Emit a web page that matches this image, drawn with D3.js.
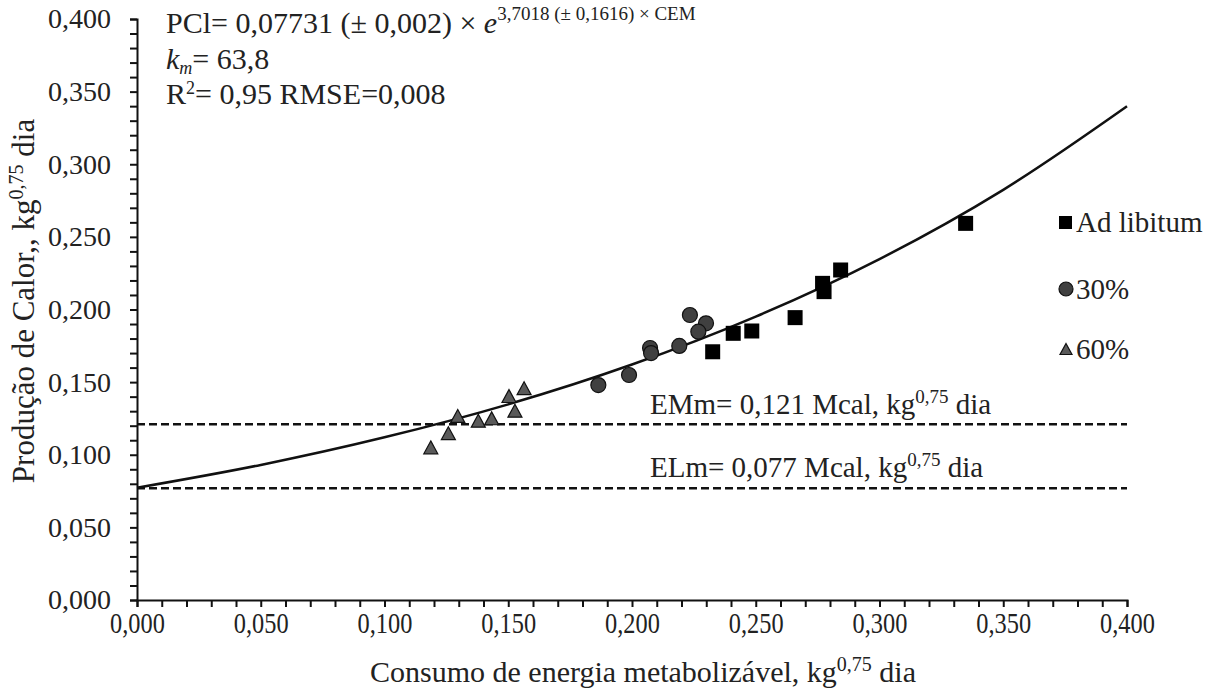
<!DOCTYPE html>
<html>
<head>
<meta charset="utf-8">
<script src="https://cdn.jsdelivr.net/npm/d3@7"></script>
<style>
  body { margin: 0; background: #fff; }
  svg text { font-family: "Liberation Serif", "DejaVu Serif", serif; fill: #222; }
</style>
</head>
<body>
<svg id="chart" width="1220" height="690"></svg>
<script>
// values (CEM, PCl)
const adLibX = [0.2326, 0.2409, 0.2484, 0.2659, 0.2776, 0.2770, 0.2843, 0.3348]
const adLibY = [0.1709, 0.1836, 0.1852, 0.1944, 0.2123, 0.2180, 0.2272, 0.2593]
const r30X = [0.1864, 0.1988, 0.2073, 0.2077, 0.2191, 0.2234, 0.2299, 0.2268]
const r30Y = [0.1480, 0.1549, 0.1735, 0.1700, 0.1749, 0.1962, 0.1905, 0.1847]
const r60X = [0.1187, 0.1258, 0.1296, 0.1379, 0.1433, 0.1503, 0.1527, 0.1564]
const r60Y = [0.1051, 0.1148, 0.1267, 0.1234, 0.1251, 0.1404, 0.1303, 0.1458]

// fitted curve, read at every 0,050
const curveX = [0, 0.05, 0.10, 0.15, 0.20, 0.25, 0.30, 0.35, 0.40]
const curveY = [0.0773, 0.0930, 0.1120, 0.1347, 0.1621, 0.1951, 0.2347, 0.2824, 0.3399]

const emm = 0.121
const elm = 0.077
const tickValues = [0, 0.05, 0.1, 0.15, 0.2, 0.25, 0.3, 0.35, 0.4]
const tickLabels = ['0,000', '0,050', '0,100', '0,150', '0,200', '0,250', '0,300', '0,350', '0,400']

const svg = d3.select('#chart')
const x = d3.scaleLinear().domain([0, 0.4]).range([137, 1127])
const y = d3.scaleLinear().domain([0, 0.4]).range([600, 19])

const minor = d3.range(0, 41).map(i => i / 100)
const label = v => {
  const i = tickValues.findIndex(t => Math.abs(t - v) < 1e-6)
  return i >= 0 ? tickLabels[i] : ''
}

// x axis
const gx = svg.append('g')
  .attr('transform', `translate(0,${y(0)})`)
  .call(d3.axisBottom(x).tickValues(minor).tickSize(7).tickPadding(5).tickFormat(label))
gx.select('.domain').attr('stroke', '#111').attr('stroke-width', 2)
gx.selectAll('.tick line').attr('stroke', '#111').attr('stroke-width', 2)
gx.selectAll('.tick text')
  .attr('font-size', 29).style('font-family', '"Liberation Serif", serif').attr('fill', '#222')
  .attr('transform', 'scale(0.84,1)')

// y axis
const gy = svg.append('g')
  .attr('transform', `translate(${x(0)},0)`)
  .call(d3.axisLeft(y).tickValues(minor).tickSize(7).tickPadding(19).tickFormat(label))
gy.select('.domain').attr('stroke', '#111').attr('stroke-width', 2)
gy.selectAll('.tick line').attr('stroke', '#111').attr('stroke-width', 2)
gy.selectAll('.tick text').attr('font-size', 28).style('font-family', '"Liberation Serif", serif').attr('fill', '#222')

// reference lines
;[emm, elm].forEach(v => {
  svg.append('line')
    .attr('x1', x(0)).attr('x2', x(0.4))
    .attr('y1', y(v)).attr('y2', y(v))
    .attr('stroke', '#111').attr('stroke-width', 2.5)
    .attr('stroke-dasharray', '8,4')
})

// curve
const pts = curveX.map((v, i) => [v, curveY[i]])
svg.append('path')
  .datum(pts)
  .attr('fill', 'none')
  .attr('stroke', '#111')
  .attr('stroke-width', 2.5)
  .attr('d', d3.line().x(d => x(d[0])).y(d => y(d[1])).curve(d3.curveCatmullRom))

// points
const tri = (s) => `M0,${-s * 0.46}L${s / 2},${s * 0.46}L${-s / 2},${s * 0.46}Z`

svg.append('g').selectAll('path')
  .data(r60X.map((v, i) => [v, r60Y[i]]))
  .join('path')
  .attr('d', tri(14))
  .attr('transform', d => `translate(${x(d[0])},${y(d[1])})`)
  .attr('fill', '#5a5a5a').attr('stroke', '#111').attr('stroke-width', 1.2)

svg.append('g').selectAll('circle')
  .data(r30X.map((v, i) => [v, r30Y[i]]))
  .join('circle')
  .attr('cx', d => x(d[0])).attr('cy', d => y(d[1])).attr('r', 7.5)
  .attr('fill', '#404040').attr('stroke', '#111').attr('stroke-width', 1.2)

svg.append('g').selectAll('rect')
  .data(adLibX.map((v, i) => [v, adLibY[i]]))
  .join('rect')
  .attr('x', d => x(d[0]) - 7.5).attr('y', d => y(d[1]) - 7.5)
  .attr('width', 15).attr('height', 15)
  .attr('fill', '#000')

// legend
const leg = svg.append('g')
leg.append('rect').attr('x', 1059).attr('y', 216).attr('width', 13).attr('height', 13).attr('fill', '#000')
leg.append('text').attr('x', 1076).attr('y', 232).attr('font-size', 29).text('Ad libitum')
leg.append('circle').attr('cx', 1066).attr('cy', 289).attr('r', 7)
  .attr('fill', '#404040').attr('stroke', '#111').attr('stroke-width', 1.2)
leg.append('text').attr('x', 1076).attr('y', 299).attr('font-size', 29).text('30%')
leg.append('path').attr('d', tri(12)).attr('transform', 'translate(1066,349)')
  .attr('fill', '#5a5a5a').attr('stroke', '#111').attr('stroke-width', 1.2)
leg.append('text').attr('x', 1076).attr('y', 359).attr('font-size', 29).text('60%')

// reference line labels
const refLabel = (yy, name) => {
  const t = svg.append('text').attr('x', 650).attr('y', yy).attr('font-size', 29)
  t.append('tspan').text(name + ' Mcal, kg')
  t.append('tspan').attr('dy', -11).attr('font-size', 19).text('0,75')
  t.append('tspan').attr('dy', 11).text(' dia')
}
refLabel(414, 'EMm= 0,121 ')
refLabel(477, 'ELm= 0,077')

// equation block
const eq = svg.append('text').attr('x', 166).attr('y', 33).attr('font-size', 30)
eq.append('tspan').text('PCl= 0,07731 (± 0,002) × ')
eq.append('tspan').attr('font-style', 'italic').text('e')
eq.append('tspan').attr('dy', -13).attr('font-size', 19).text('3,7018 (± 0,1616) × CEM')

const km = svg.append('text').attr('x', 166).attr('y', 69).attr('font-size', 30)
km.append('tspan').attr('font-style', 'italic').text('k')
km.append('tspan').attr('dy', 5).attr('font-size', 18).attr('font-style', 'italic').text('m')
km.append('tspan').attr('dy', -5).text('= 63,8')

const r2 = svg.append('text').attr('x', 166).attr('y', 104).attr('font-size', 30)
r2.append('tspan').text('R')
r2.append('tspan').attr('dy', -10).attr('font-size', 18).text('2')
r2.append('tspan').attr('dy', 10).text('= 0,95 RMSE=0,008')

// axis titles
const xt = svg.append('text').attr('x', 643).attr('y', 682)
  .attr('text-anchor', 'middle').attr('font-size', 30)
xt.append('tspan').text('Consumo de energia metabolizável, kg')
xt.append('tspan').attr('dy', -11).attr('font-size', 20).text('0,75')
xt.append('tspan').attr('dy', 11).text(' dia')

const yt = svg.append('text').attr('transform', 'translate(34,301) rotate(-90)')
  .attr('text-anchor', 'middle').attr('font-size', 31)
yt.append('tspan').text('Produção de Calor,, kg')
yt.append('tspan').attr('dy', -11).attr('font-size', 20).text('0,75')
yt.append('tspan').attr('dy', 11).text(' dia')
</script>
</body>
</html>
